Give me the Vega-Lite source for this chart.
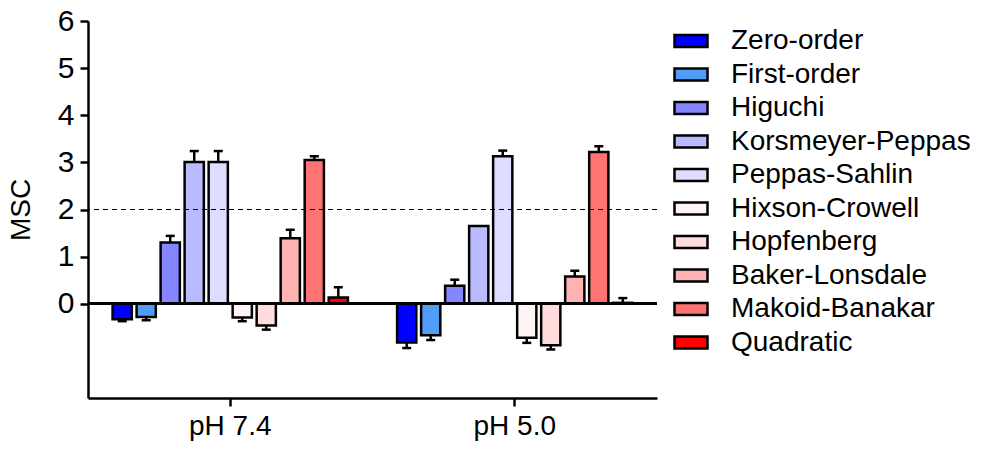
{
  "$schema": "https://vega.github.io/schema/vega-lite/v6.json",
  "width": 569,
  "height": 377,
  "autosize": "none",
  "padding": {"left": 88, "top": 21, "right": 338, "bottom": 52},
  "background": "white",
  "config": {
    "view": {"stroke": null},
    "font": "Liberation Sans",
    "axis": {"grid": false, "domainColor": "black", "tickColor": "black", "labelColor": "black", "titleColor": "black", "labelFont": "Liberation Sans", "titleFont": "Liberation Sans"}
  },
  "data": {
    "values": [
      {"ph": "pH 7.4", "model": "Zero-order", "msc": -0.33, "errEnd": -0.37},
      {"ph": "pH 7.4", "model": "First-order", "msc": -0.28, "errEnd": -0.35},
      {"ph": "pH 7.4", "model": "Higuchi", "msc": 1.30, "errEnd": 1.44},
      {"ph": "pH 7.4", "model": "Korsmeyer-Peppas", "msc": 3.01, "errEnd": 3.24},
      {"ph": "pH 7.4", "model": "Peppas-Sahlin", "msc": 3.01, "errEnd": 3.24},
      {"ph": "pH 7.4", "model": "Hixson-Crowell", "msc": -0.29, "errEnd": -0.37},
      {"ph": "pH 7.4", "model": "Hopfenberg", "msc": -0.46, "errEnd": -0.55},
      {"ph": "pH 7.4", "model": "Baker-Lonsdale", "msc": 1.39, "errEnd": 1.57},
      {"ph": "pH 7.4", "model": "Makoid-Banakar", "msc": 3.05, "errEnd": 3.13},
      {"ph": "pH 7.4", "model": "Quadratic", "msc": 0.13, "errEnd": 0.35},
      {"ph": "pH 5.0", "model": "Zero-order", "msc": -0.82, "errEnd": -0.94},
      {"ph": "pH 5.0", "model": "First-order", "msc": -0.67, "errEnd": -0.77},
      {"ph": "pH 5.0", "model": "Higuchi", "msc": 0.38, "errEnd": 0.51},
      {"ph": "pH 5.0", "model": "Korsmeyer-Peppas", "msc": 1.65, "errEnd": null},
      {"ph": "pH 5.0", "model": "Peppas-Sahlin", "msc": 3.13, "errEnd": 3.25},
      {"ph": "pH 5.0", "model": "Hixson-Crowell", "msc": -0.72, "errEnd": -0.83},
      {"ph": "pH 5.0", "model": "Hopfenberg", "msc": -0.88, "errEnd": -0.97},
      {"ph": "pH 5.0", "model": "Baker-Lonsdale", "msc": 0.58, "errEnd": 0.70},
      {"ph": "pH 5.0", "model": "Makoid-Banakar", "msc": 3.22, "errEnd": 3.34},
      {"ph": "pH 5.0", "model": "Quadratic", "msc": 0.02, "errEnd": 0.12}
    ]
  },
  "layer": [
    {
      "mark": {"type": "bar", "stroke": "black", "strokeWidth": 2.5},
      "encoding": {
        "x": {
          "field": "ph", "type": "nominal", "sort": ["pH 7.4", "pH 5.0"],
          "scale": {"paddingInner": 0.156, "paddingOuter": 0.078},
          "axis": {"title": null, "labelAngle": 0, "labelFontSize": 28, "labelPadding": 6, "tickSize": 8, "tickWidth": 2.5, "domainWidth": 2.5}
        },
        "xOffset": {
          "field": "model", "type": "nominal",
          "sort": ["Zero-order", "First-order", "Higuchi", "Korsmeyer-Peppas", "Peppas-Sahlin", "Hixson-Crowell", "Hopfenberg", "Baker-Lonsdale", "Makoid-Banakar", "Quadratic"],
          "scale": {"paddingInner": 0.2, "paddingOuter": 0.1}
        },
        "y": {
          "field": "msc", "type": "quantitative",
          "scale": {"domain": [-2, 6], "nice": false, "zero": false},
          "axis": {"title": "MSC", "titleFontSize": 28, "titleFontWeight": "normal", "titlePadding": 22, "values": [0, 1, 2, 3, 4, 5, 6], "labelFontSize": 30, "labelPadding": 6, "tickSize": 8, "tickWidth": 2.5, "domainWidth": 2.5}
        },
        "color": {
          "field": "model", "type": "nominal",
          "sort": ["Zero-order", "First-order", "Higuchi", "Korsmeyer-Peppas", "Peppas-Sahlin", "Hixson-Crowell", "Hopfenberg", "Baker-Lonsdale", "Makoid-Banakar", "Quadratic"],
          "scale": {
            "domain": ["Zero-order", "First-order", "Higuchi", "Korsmeyer-Peppas", "Peppas-Sahlin", "Hixson-Crowell", "Hopfenberg", "Baker-Lonsdale", "Makoid-Banakar", "Quadratic"],
            "range": ["#0000FF", "#509CF8", "#8585FF", "#BABAFF", "#DDDDFF", "#FFF5F5", "#FFDDDD", "#FFB3B3", "#FF7373", "#FF0000"]
          },
          "legend": {
            "title": null, "orient": "none", "legendX": 585, "legendY": 2,
            "symbolType": "M-1,-0.36H1V0.36H-1Z", "symbolSize": 1089,
            "symbolStrokeColor": "black", "symbolStrokeWidth": 2.5, "symbolOpacity": 1,
            "labelFontSize": 28, "labelFont": "Liberation Sans", "labelColor": "black",
            "labelOffset": 22, "rowPadding": 1.5, "labelLimit": 400
          }
        }
      }
    },
    {
      "mark": {"type": "rule", "color": "black", "strokeWidth": 2.5},
      "encoding": {
        "x": {"field": "ph", "type": "nominal", "sort": ["pH 7.4", "pH 5.0"]},
        "xOffset": {"field": "model", "type": "nominal", "sort": ["Zero-order", "First-order", "Higuchi", "Korsmeyer-Peppas", "Peppas-Sahlin", "Hixson-Crowell", "Hopfenberg", "Baker-Lonsdale", "Makoid-Banakar", "Quadratic"]},
        "y": {"field": "msc", "type": "quantitative"},
        "y2": {"field": "errEnd"}
      }
    },
    {
      "mark": {"type": "tick", "color": "black", "size": 9, "thickness": 2.5, "opacity": 1},
      "encoding": {
        "x": {"field": "ph", "type": "nominal", "sort": ["pH 7.4", "pH 5.0"]},
        "xOffset": {"field": "model", "type": "nominal", "sort": ["Zero-order", "First-order", "Higuchi", "Korsmeyer-Peppas", "Peppas-Sahlin", "Hixson-Crowell", "Hopfenberg", "Baker-Lonsdale", "Makoid-Banakar", "Quadratic"]},
        "y": {"field": "errEnd", "type": "quantitative"}
      }
    },
    {
      "mark": {"type": "rule", "color": "black", "strokeWidth": 2},
      "encoding": {"y": {"datum": 0, "type": "quantitative"}}
    },
    {
      "mark": {"type": "rule", "color": "black", "strokeWidth": 1.2, "strokeDash": [5, 4]},
      "encoding": {"y": {"datum": 2, "type": "quantitative"}}
    }
  ]
}
